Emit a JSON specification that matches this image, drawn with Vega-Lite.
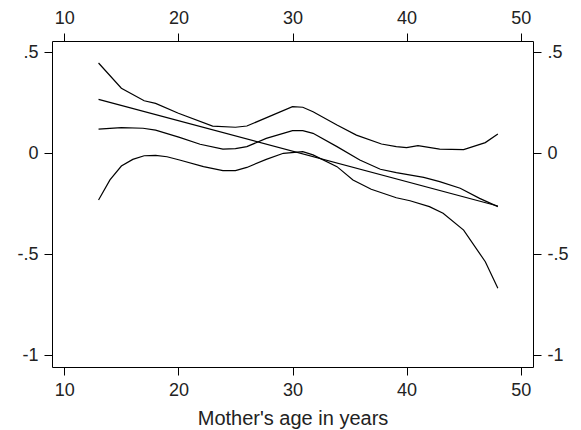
{
  "$schema": "https://vega.github.io/schema/vega-lite/v6.json",
  "width": 481,
  "height": 326,
  "autosize": {"type": "none"},
  "padding": {"left": 52, "top": 41, "right": 48, "bottom": 63},
  "background": "white",
  "config": {
    "view": {"stroke": "black", "strokeWidth": 1},
    "font": "Liberation Sans",
    "axis": {
      "domain": false,
      "grid": false,
      "ticks": true,
      "tickColor": "black",
      "tickSize": 8,
      "tickWidth": 1,
      "labelFont": "Liberation Sans",
      "labelFontSize": 18,
      "labelColor": "#222",
      "labelPadding": 6,
      "titleFont": "Liberation Sans",
      "titleFontSize": 20,
      "titleFontWeight": "normal",
      "titleColor": "#222"
    }
  },
  "data": {
    "values": [
      {"series": "upper", "x": 13.0, "y": 0.447},
      {"series": "upper", "x": 15.0, "y": 0.322},
      {"series": "upper", "x": 17.0, "y": 0.26},
      {"series": "upper", "x": 18.0, "y": 0.247},
      {"series": "upper", "x": 20.0, "y": 0.198},
      {"series": "upper", "x": 23.0, "y": 0.135},
      {"series": "upper", "x": 25.0, "y": 0.129},
      {"series": "upper", "x": 26.0, "y": 0.135},
      {"series": "upper", "x": 28.3, "y": 0.19},
      {"series": "upper", "x": 30.0, "y": 0.231},
      {"series": "upper", "x": 30.9, "y": 0.228},
      {"series": "upper", "x": 31.8, "y": 0.206},
      {"series": "upper", "x": 33.9, "y": 0.14},
      {"series": "upper", "x": 35.6, "y": 0.09},
      {"series": "upper", "x": 37.8, "y": 0.046},
      {"series": "upper", "x": 39.1, "y": 0.033},
      {"series": "upper", "x": 40.0, "y": 0.028},
      {"series": "upper", "x": 41.0, "y": 0.038},
      {"series": "upper", "x": 42.9, "y": 0.021},
      {"series": "upper", "x": 45.0, "y": 0.018},
      {"series": "upper", "x": 46.9, "y": 0.053},
      {"series": "upper", "x": 48.0, "y": 0.095},
      {"series": "fit", "x": 13.0, "y": 0.12},
      {"series": "fit", "x": 15.0, "y": 0.127},
      {"series": "fit", "x": 16.9, "y": 0.124},
      {"series": "fit", "x": 18.0, "y": 0.115},
      {"series": "fit", "x": 20.1, "y": 0.079},
      {"series": "fit", "x": 21.9, "y": 0.045},
      {"series": "fit", "x": 23.9, "y": 0.021},
      {"series": "fit", "x": 25.0, "y": 0.023},
      {"series": "fit", "x": 26.0, "y": 0.033},
      {"series": "fit", "x": 27.7, "y": 0.074},
      {"series": "fit", "x": 30.0, "y": 0.112},
      {"series": "fit", "x": 30.9, "y": 0.112},
      {"series": "fit", "x": 31.8, "y": 0.099},
      {"series": "fit", "x": 33.9, "y": 0.033},
      {"series": "fit", "x": 35.9, "y": -0.033},
      {"series": "fit", "x": 37.7, "y": -0.079},
      {"series": "fit", "x": 39.1, "y": -0.096},
      {"series": "fit", "x": 41.5, "y": -0.119},
      {"series": "fit", "x": 42.9, "y": -0.14},
      {"series": "fit", "x": 44.7, "y": -0.173},
      {"series": "fit", "x": 46.4, "y": -0.223},
      {"series": "fit", "x": 48.0, "y": -0.264},
      {"series": "linear", "x": 13.0, "y": 0.267},
      {"series": "linear", "x": 48.0, "y": -0.261},
      {"series": "lower", "x": 13.0, "y": -0.231},
      {"series": "lower", "x": 14.0, "y": -0.132},
      {"series": "lower", "x": 15.0, "y": -0.063},
      {"series": "lower", "x": 16.0, "y": -0.03},
      {"series": "lower", "x": 17.0, "y": -0.012},
      {"series": "lower", "x": 18.0, "y": -0.01},
      {"series": "lower", "x": 19.0, "y": -0.017},
      {"series": "lower", "x": 20.1, "y": -0.033},
      {"series": "lower", "x": 22.2, "y": -0.066},
      {"series": "lower", "x": 23.9, "y": -0.086},
      {"series": "lower", "x": 25.0, "y": -0.086},
      {"series": "lower", "x": 26.0, "y": -0.07},
      {"series": "lower", "x": 27.7, "y": -0.03},
      {"series": "lower", "x": 29.2, "y": 0.0},
      {"series": "lower", "x": 30.9, "y": 0.008},
      {"series": "lower", "x": 31.8, "y": -0.008},
      {"series": "lower", "x": 33.9, "y": -0.066},
      {"series": "lower", "x": 35.3, "y": -0.132},
      {"series": "lower", "x": 36.9, "y": -0.178},
      {"series": "lower", "x": 39.1, "y": -0.22},
      {"series": "lower", "x": 40.3, "y": -0.235},
      {"series": "lower", "x": 42.0, "y": -0.264},
      {"series": "lower", "x": 43.2, "y": -0.297},
      {"series": "lower", "x": 45.0, "y": -0.38},
      {"series": "lower", "x": 46.9, "y": -0.537},
      {"series": "lower", "x": 48.0, "y": -0.668}
    ]
  },
  "layer": [
    {
      "mark": {"type": "line", "color": "black", "strokeWidth": 1.2, "clip": true},
      "encoding": {
        "x": {
          "field": "x", "type": "quantitative",
          "scale": {"domain": [8.92, 51.08], "nice": false, "zero": false},
          "axis": {"orient": "bottom", "values": [10, 20, 30, 40, 50], "title": "Mother's age in years", "titlePadding": 9}
        },
        "y": {
          "field": "y", "type": "quantitative",
          "scale": {"domain": [-1.058, 0.556], "nice": false, "zero": false},
          "axis": {"orient": "left", "values": [-1, -0.5, 0, 0.5], "labelExpr": "datum.value == 0 ? '0' : (datum.value < 0 ? '-' : '') + replace(format(abs(datum.value), '.1~f'), '0.', '.')", "title": null}
        },
        "detail": {"field": "series", "type": "nominal"}
      }
    },
    {
      "mark": {"type": "line", "opacity": 0},
      "encoding": {
        "x": {
          "field": "x", "type": "quantitative",
          "axis": {"orient": "top", "values": [10, 20, 30, 40, 50], "title": null}
        },
        "y": {
          "field": "y", "type": "quantitative",
          "axis": {"orient": "right", "values": [-1, -0.5, 0, 0.5], "labelExpr": "datum.value == 0 ? '0' : (datum.value < 0 ? '-' : '') + replace(format(abs(datum.value), '.1~f'), '0.', '.')", "title": null}
        },
        "detail": {"field": "series", "type": "nominal"}
      }
    }
  ],
  "resolve": {"axis": {"x": "independent", "y": "independent"}}
}
